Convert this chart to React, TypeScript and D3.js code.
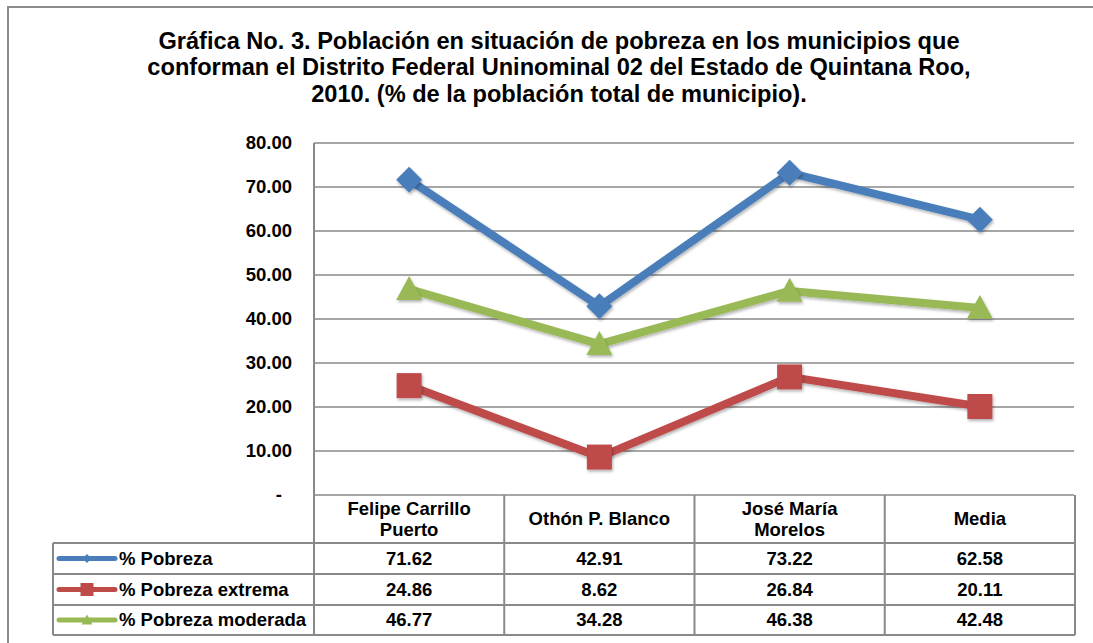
import React from "react";
import * as d3 from "d3";

const titleLines = [
  "Gráfica No. 3. Población en situación de pobreza en los municipios que",
  "conforman el Distrito Federal Uninominal 02 del Estado de Quintana Roo,",
  "2010. (% de la población total de municipio).",
];

const categories = ["Felipe Carrillo Puerto", "Othón P. Blanco", "José María Morelos", "Media"];
const categoryLines = [["Felipe Carrillo", "Puerto"], ["Othón P. Blanco"], ["José María", "Morelos"], ["Media"]];

const seriesNames = ["% Pobreza", "% Pobreza extrema", "% Pobreza moderada"];
const pobreza = [71.62, 42.91, 73.22, 62.58];
const pobrezaExtrema = [24.86, 8.62, 26.84, 20.11];
const pobrezaModerada = [46.77, 34.28, 46.38, 42.48];
const yTicks = [0, 10, 20, 30, 40, 50, 60, 70, 80];

const colors = ["#4A7EBB", "#BE4B48", "#98B954"];
const markerTypes = ["diamond", "square", "triangle"];

const FONT = "'Liberation Sans', Arial, Helvetica, sans-serif";

function markerPath(type: string, s: number) {
  const h = s / 2;
  if (type === "diamond") return `M0,${-h}L${h},0L0,${h}L${-h},0Z`;
  if (type === "square") return `M${-h},${-h}H${h}V${h}H${-h}Z`;
  const th = s * 0.92;
  return `M0,${-th * 0.55}L${h},${th * 0.45}L${-h},${th * 0.45}Z`;
}

export default function App() {
  const W = 1093, H = 643;
  const plotL = 314, plotR = 1075, plotT = 143, plotB = 495;
  const rowH = [48, 31, 31, 30];
  const legendL = 53;
  const fs = 18.5;

  const x = d3.scaleBand<string>().domain(categories).range([plotL, plotR]);
  const y = d3.scaleLinear().domain([0, 80]).range([plotB, plotT]);
  const cx = (c: string) => (x(c) as number) + x.bandwidth() / 2;

  const series = [pobreza, pobrezaExtrema, pobrezaModerada];
  const line = d3
    .line<number>()
    .x((_, i) => cx(categories[i]))
    .y((d) => y(d));

  const rowTops: number[] = [plotB];
  rowH.forEach((h, i) => rowTops.push(rowTops[i] + h));
  const tableB = rowTops[rowTops.length - 1];

  const grid = "#898989";
  const fmt = d3.format(".2f");

  return (
    <svg
      width={W}
      height={H}
      style={{ position: "absolute", left: 0, top: 0, background: "#fff" }}
      fontFamily={FONT}
    >
      <defs>
        <filter id="sh" x="-50%" y="-50%" width="200%" height="200%">
          <feDropShadow dx="1" dy="2" stdDeviation="1.5" floodColor="#000" floodOpacity="0.3" />
        </filter>
      </defs>
      <rect x={8} y={7} width={1100} height={660} fill="#fff" stroke="#8c8c8c" strokeWidth={2} />

      {titleLines.map((t, i) => (
        <text key={i} x={559} y={48.5 + i * 26.5} textAnchor="middle" fontSize={23.6} fontWeight="bold" fill="#000">
          {t}
        </text>
      ))}

      {/* gridlines */}
      {yTicks.map((t) => (
        <line key={t} x1={plotL} x2={plotR - 1} y1={y(t)} y2={y(t)} stroke={grid} strokeWidth={1.6} />
      ))}
      <line x1={plotL} x2={plotL} y1={plotT} y2={plotB} stroke={grid} strokeWidth={2} />

      {/* y labels */}
      {yTicks.map((t) => (
        <text
          key={t}
          x={t === 0 ? 282 : 292}
          y={y(t)}
          dy="0.35em"
          textAnchor="end"
          fontSize={fs}
          fontWeight="bold"
          fill="#000"
        >
          {t === 0 ? "-" : fmt(t)}
        </text>
      ))}

      {/* lines */}
      {series.map((s, si) => (
        <path
          key={si}
          d={line(s) as string}
          fill="none"
          stroke={colors[si]}
          strokeWidth={8}
          strokeLinejoin="round"
          filter="url(#sh)"
        />
      ))}
      {series.map((s, si) =>
        s.map((v, i) => (
          <path
            key={`${si}-${i}`}
            d={markerPath(markerTypes[si], si === 0 ? 26 : si === 1 ? 25 : 26)}
            transform={`translate(${cx(categories[i])},${y(v)})`}
            fill={colors[si]}
            filter="url(#sh)"
          />
        ))
      )}

      {/* table */}
      <line x1={plotL} x2={plotR} y1={tableB} y2={tableB} stroke={grid} strokeWidth={2} />
      {rowTops.slice(1, -1).map((ry, i) => (
        <line key={i} x1={legendL} x2={plotR} y1={ry} y2={ry} stroke={grid} strokeWidth={2} />
      ))}
      <line x1={legendL} x2={plotL} y1={tableB} y2={tableB} stroke={grid} strokeWidth={2} />
      <line x1={legendL} x2={legendL} y1={rowTops[1]} y2={tableB} stroke={grid} strokeWidth={2} />
      {categories.map((c) => (
        <line
          key={c}
          x1={(x(c) as number) + x.bandwidth()}
          x2={(x(c) as number) + x.bandwidth()}
          y1={plotB}
          y2={tableB}
          stroke={grid}
          strokeWidth={2}
        />
      ))}
      <line x1={plotL} x2={plotL} y1={plotB} y2={tableB} stroke={grid} strokeWidth={2} />

      {/* header text */}
      {categoryLines.map((ls, i) => {
        const midY = (rowTops[0] + rowTops[1]) / 2;
        return ls.map((l, j) => (
          <text
            key={`${i}-${j}`}
            x={cx(categories[i])}
            y={midY + (j - (ls.length - 1) / 2) * 21}
            dy="0.35em"
            textAnchor="middle"
            fontSize={fs}
            fontWeight="bold"
            fill="#000"
          >
            {l}
          </text>
        ));
      })}

      {/* rows */}
      {series.map((s, si) => {
        const midY = (rowTops[si + 1] + rowTops[si + 2]) / 2;
        return (
          <g key={si}>
            <line x1={59} x2={115} y1={midY} y2={midY} stroke={colors[si]} strokeWidth={5} strokeLinecap="round" />
            <path
              d={markerPath(markerTypes[si], si === 0 ? 9 : si === 1 ? 13 : 11)}
              transform={`translate(87,${midY})`}
              fill={colors[si]}
            />
            <text x={119} y={midY} dy="0.35em" fontSize={fs} fontWeight="bold" fill="#000">
              {seriesNames[si]}
            </text>
            {s.map((v, i) => (
              <text
                key={i}
                x={cx(categories[i])}
                y={midY}
                dy="0.35em"
                textAnchor="middle"
                fontSize={fs}
                fontWeight="bold"
                fill="#000"
              >
                {fmt(v)}
              </text>
            ))}
          </g>
        );
      })}
    </svg>
  );
}
